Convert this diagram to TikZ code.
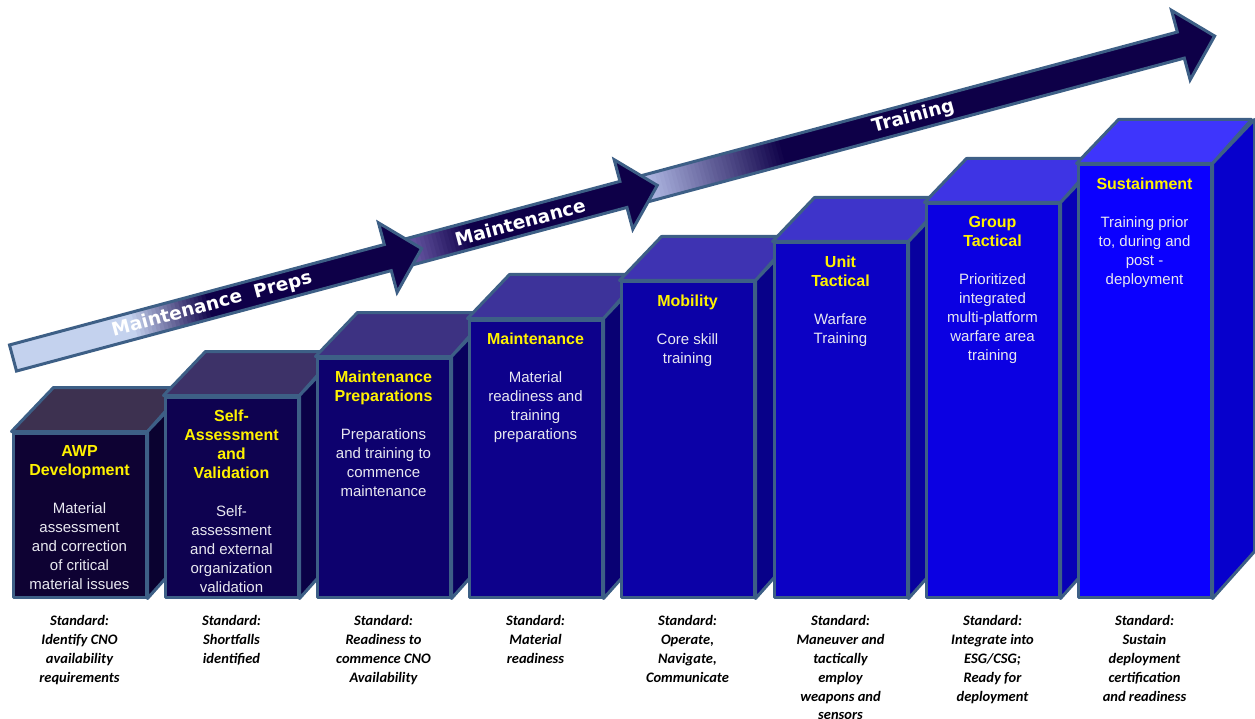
\documentclass[tikz,border=0pt]{standalone}
\usepackage{fontspec}
\setmainfont{Liberation Sans}
\newfontfamily\stdfont{Carlito}
\newfontfamily\arrowfont{DejaVu Sans}

\definecolor{edge}{RGB}{61,95,134}
\definecolor{frontlo}{RGB}{14,2,51}
\definecolor{fronthi}{RGB}{11,0,255}
\definecolor{toplo}{RGB}{61,49,80}
\definecolor{tophi}{RGB}{62,53,252}
\definecolor{sidelo}{RGB}{10,2,48}
\definecolor{sidehi}{RGB}{7,0,204}
\definecolor{bodygray}{RGB}{232,232,240}
\definecolor{arrowdark}{RGB}{14,0,72}
\definecolor{prepslight}{RGB}{196,210,238}
\definecolor{maintlight}{RGB}{96,80,156}
\definecolor{trainlight}{RGB}{170,178,222}

\newcommand{\boxtitle}[1]{\textcolor{yellow}{\bfseries\fontsize{16}{19}\selectfont #1}}

\begin{document}
\begin{tikzpicture}[x=1pt, y=-1pt,
  face/.style={draw=edge, line width=3pt, line join=round},
  front/.style={face, minimum width=133, inner sep=0},
  boxtext/.style={anchor=north, align=center, inner sep=0, text=bodygray, font=\fontsize{15}{19}\selectfont},
  standard/.style={anchor=north, align=center, inner sep=0, font=\stdfont\bfseries\itshape\fontsize{14.5}{18.8}\selectfont},
  arrowline/.style={draw=edge, line width=3pt, line join=miter},
  arrowlabel/.style={rotate=15, text=white, inner sep=0, font=\arrowfont\bfseries\fontsize{18.5}{22}\selectfont}]
  \useasboundingbox (0,0) rectangle (1255,719);

  % the steps
  \node[front, fill=fronthi!0!frontlo, minimum height=164] (b1) at (79.5,515) {};
  \filldraw[face, fill=tophi!0!toplo] (b1.north west) -- ++(42,-44) -- ++(133,0) -- (b1.north east) -- cycle;
  \filldraw[face, fill=sidehi!0!sidelo] (b1.north east) -- ++(42,-44) -- ++(0,164) -- (b1.south east) -- cycle;
  \node[boxtext] (t1) at ([yshift=-14]b1.north) {\boxtitle{AWP}\\\boxtitle{Development}\\[19pt]Material\\assessment\\and correction\\of critical\\material issues};
  \node[standard] (s1) at ([yshift=-17]b1.south) {Standard:\\Identify CNO\\availability\\requirements};

  \node[front, fill=fronthi!14!frontlo, minimum height=200] (b2) at (231.5,497) {};
  \filldraw[face, fill=tophi!14!toplo] (b2.north west) -- ++(42,-44) -- ++(133,0) -- (b2.north east) -- cycle;
  \filldraw[face, fill=sidehi!14!sidelo] (b2.north east) -- ++(42,-44) -- ++(0,200) -- (b2.south east) -- cycle;
  \node[boxtext] (t2) at ([yshift=-14]b2.north) {\boxtitle{Self-}\\\boxtitle{Assessment}\\\boxtitle{and}\\\boxtitle{Validation}\\[19pt]Self-\\assessment\\and external\\organization\\validation};
  \node[standard] (s2) at ([yshift=-17]b2.south) {Standard:\\Shortfalls\\identified};

  \node[front, fill=fronthi!29!frontlo, minimum height=239] (b3) at (383.5,477.5) {};
  \filldraw[face, fill=tophi!29!toplo] (b3.north west) -- ++(42,-44) -- ++(133,0) -- (b3.north east) -- cycle;
  \filldraw[face, fill=sidehi!29!sidelo] (b3.north east) -- ++(42,-44) -- ++(0,239) -- (b3.south east) -- cycle;
  \node[boxtext] (t3) at ([yshift=-14]b3.north) {\boxtitle{Maintenance}\\\boxtitle{Preparations}\\[19pt]Preparations\\and training to\\commence\\maintenance};
  \node[standard] (s3) at ([yshift=-17]b3.south) {Standard:\\Readiness to\\commence CNO\\Availability};

  \node[front, fill=fronthi!43!frontlo, minimum height=277] (b4) at (535.5,458.5) {};
  \filldraw[face, fill=tophi!43!toplo] (b4.north west) -- ++(42,-44) -- ++(133,0) -- (b4.north east) -- cycle;
  \filldraw[face, fill=sidehi!43!sidelo] (b4.north east) -- ++(42,-44) -- ++(0,277) -- (b4.south east) -- cycle;
  \node[boxtext] (t4) at ([yshift=-14]b4.north) {\boxtitle{Maintenance}\\[19pt]Material\\readiness and\\training\\preparations};
  \node[standard] (s4) at ([yshift=-17]b4.south) {Standard:\\Material\\readiness};

  \node[front, fill=fronthi!57!frontlo, minimum height=315] (b5) at (687.5,439.5) {};
  \filldraw[face, fill=tophi!57!toplo] (b5.north west) -- ++(42,-44) -- ++(133,0) -- (b5.north east) -- cycle;
  \filldraw[face, fill=sidehi!57!sidelo] (b5.north east) -- ++(42,-44) -- ++(0,315) -- (b5.south east) -- cycle;
  \node[boxtext] (t5) at ([yshift=-14]b5.north) {\boxtitle{Mobility}\\[19pt]Core skill\\training};
  \node[standard] (s5) at ([yshift=-17]b5.south) {Standard:\\Operate,\\Navigate,\\Communicate};

  \node[front, fill=fronthi!71!frontlo, minimum height=354] (b6) at (840.5,420) {};
  \filldraw[face, fill=tophi!71!toplo] (b6.north west) -- ++(42,-44) -- ++(133,0) -- (b6.north east) -- cycle;
  \filldraw[face, fill=sidehi!71!sidelo] (b6.north east) -- ++(42,-44) -- ++(0,354) -- (b6.south east) -- cycle;
  \node[boxtext] (t6) at ([yshift=-14]b6.north) {\boxtitle{Unit}\\\boxtitle{Tactical}\\[19pt]Warfare\\Training};
  \node[standard] (s6) at ([yshift=-17]b6.south) {Standard:\\Maneuver and\\tactically\\employ\\weapons and\\sensors};

  \node[front, fill=fronthi!86!frontlo, minimum height=393] (b7) at (992.5,400.5) {};
  \filldraw[face, fill=tophi!86!toplo] (b7.north west) -- ++(42,-44) -- ++(133,0) -- (b7.north east) -- cycle;
  \filldraw[face, fill=sidehi!86!sidelo] (b7.north east) -- ++(42,-44) -- ++(0,393) -- (b7.south east) -- cycle;
  \node[boxtext] (t7) at ([yshift=-14]b7.north) {\boxtitle{Group}\\\boxtitle{Tactical}\\[19pt]Prioritized\\integrated\\multi-platform\\warfare area\\training};
  \node[standard] (s7) at ([yshift=-17]b7.south) {Standard:\\Integrate into\\ESG/CSG;\\Ready for\\deployment};

  \node[front, fill=fronthi, minimum height=432] (b8) at (1144.5,381) {};
  \filldraw[face, fill=tophi] (b8.north west) -- ++(42,-44) -- ++(133,0) -- (b8.north east) -- cycle;
  \filldraw[face, fill=sidehi] (b8.north east) -- ++(42,-44) -- ++(0,432) -- (b8.south east) -- cycle;
  \node[boxtext] (t8) at ([yshift=-14]b8.north) {\boxtitle{Sustainment}\\[19pt]Training prior\\to, during and\\post -\\deployment};
  \node[standard] (s8) at ([yshift=-17]b8.south) {Standard:\\Sustain\\deployment\\certification\\and readiness};

  % the arrows along one axis, light tail fading into dark
  \begin{scope}[shift={(13,358)}, rotate=15]
    \begin{scope}
      \clip (635,-13.5) -- (1209,-13.5) -- (1209,-36) -- (1244,0) -- (1209,36) -- (1209,13.5) -- (635,13.5) -- cycle;
      \fill[arrowdark] (630,-40) rectangle (1250,40);
      \fill[trainlight] (630,-40) rectangle (662,40);
      \foreach \i [evaluate=\i as \pct using int(\i*100/34)] in {0,...,34}
        \fill[arrowdark!\pct!trainlight] (660+4*\i,-40) rectangle (665+4*\i,40);
    \end{scope}
    \draw[arrowline] (635,-13.5) -- (1209,-13.5) -- (1209,-36) -- (1244,0) -- (1209,36) -- (1209,13.5) -- (635,13.5) -- cycle;

    \begin{scope}
      \clip (392,-13.5) -- (632,-13.5) -- (632,-36) -- (667,0) -- (632,36) -- (632,13.5) -- (392,13.5) -- cycle;
      \fill[arrowdark] (390,-40) rectangle (670,40);
      \fill[maintlight] (390,-40) rectangle (418,40);
      \foreach \i [evaluate=\i as \pct using int(\i*100/14)] in {0,...,14}
        \fill[arrowdark!\pct!maintlight] (416+4*\i,-40) rectangle (421+4*\i,40);
    \end{scope}
    \draw[arrowline] (392,-13.5) -- (632,-13.5) -- (632,-36) -- (667,0) -- (632,36) -- (632,13.5) -- (392,13.5) -- cycle;

    \begin{scope}
      \clip (0,-13.5) -- (388,-13.5) -- (388,-36) -- (423,0) -- (388,36) -- (388,13.5) -- (0,13.5) -- cycle;
      \fill[arrowdark] (-5,-40) rectangle (430,40);
      \fill[prepslight] (-5,-40) rectangle (125,40);
      \foreach \i [evaluate=\i as \pct using int(\i*100/20)] in {0,...,20}
        \fill[arrowdark!\pct!prepslight] (122+4*\i,-40) rectangle (127+4*\i,40);
    \end{scope}
    \draw[arrowline] (0,-13.5) -- (388,-13.5) -- (388,-36) -- (423,0) -- (388,36) -- (388,13.5) -- (0,13.5) -- cycle;

    \node[arrowlabel] (preps) at (206,0) {Maintenance~~Preps};
    \node[arrowlabel] (maint) at (525,0) {Maintenance};
    \node[arrowlabel] (train) at (932,0) {Training};
  \end{scope}
\end{tikzpicture}
\end{document}
